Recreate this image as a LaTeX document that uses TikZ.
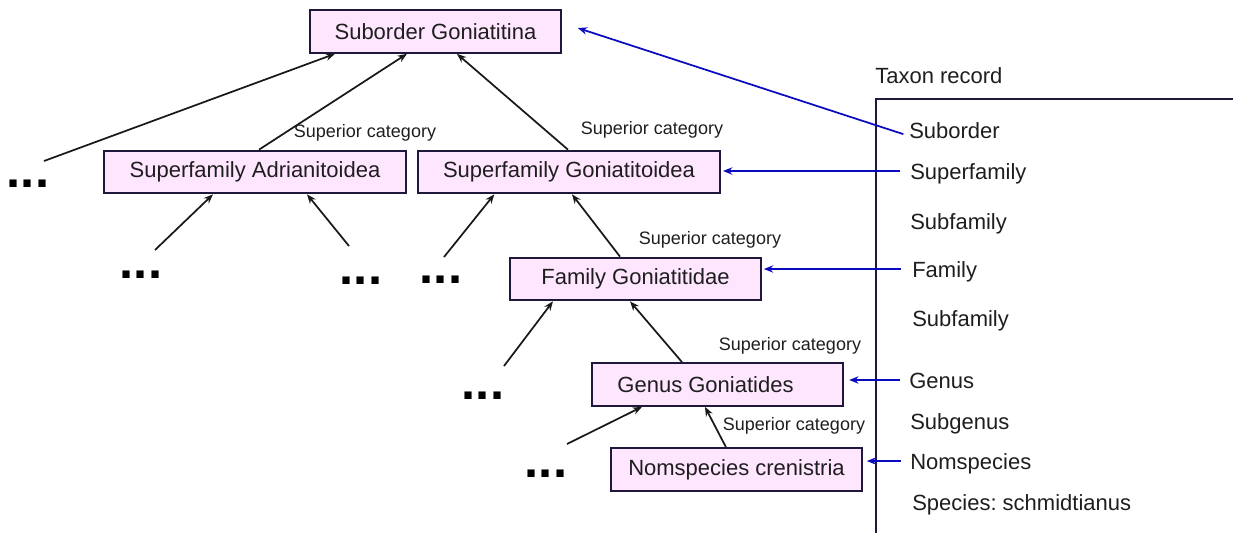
\documentclass[tikz,border=0pt]{standalone}
\usepackage{fontspec}
\setmainfont{Liberation Sans}
\usetikzlibrary{arrows.meta,calc}
\definecolor{boxfill}{RGB}{255,230,255}
\definecolor{boxline}{RGB}{30,25,60}
\definecolor{txt}{RGB}{30,30,30}
\definecolor{lnk}{RGB}{10,10,190}
\frenchspacing
\begin{document}
\begin{tikzpicture}[x=0.75pt,y=-0.75pt,
  taxbox/.style={draw=boxline,line width=1.5pt,fill=boxfill,minimum width=188pt,minimum height=32pt,inner sep=0pt,font=\fontsize{16.5}{20}\selectfont,text=txt},
  cat/.style={font=\fontsize{13.5}{16}\selectfont,text=txt,inner sep=0pt},
  reclabel/.style={font=\fontsize{16.5}{20}\selectfont,text=txt,inner sep=0pt,anchor=west,text height=12pt,text depth=0pt},
  dotrow/.style={font=\fontsize{38}{40}\selectfont\bfseries,inner sep=0pt,anchor=base},
  up/.style={line width=1.3pt,draw=black!90,-{Stealth[length=7pt,width=5.5pt]}},
  link/.style={line width=1.3pt,draw=lnk,-{Stealth[length=7pt,width=5.5pt]}}]
\useasboundingbox (0,0) rectangle (1233,533);

% taxon boxes
\node[taxbox] (sub) at (435.5,31.5) {Suborder Goniatitina};
\node[taxbox, minimum width=226.5pt] (adr) at (255,172) {Superfamily Adrianitoidea};
\node[taxbox, minimum width=226.5pt] (gon) at (569,172) {Superfamily Goniatitoidea};
\node[taxbox] (fam) at (635.5,279) {Family Goniatitidae};
\node[taxbox] (gen) at (717.5,384.5) {Genus Goniatides\hspace*{18pt}};
\node[taxbox] (nom) at (736.5,469.5) {Nomspecies crenistria};

% dots
\node[dotrow] (d1) at (28,187) {...};
\node[dotrow] (d2) at (141,278) {...};
\node[dotrow] (d3) at (361,284) {...};
\node[dotrow] (d4) at (441,283) {...};
\node[dotrow] (d5) at (483,399) {...};
\node[dotrow] (d6) at (546,477) {...};

% free ends near dots
\coordinate (e1) at (44,161);
\coordinate (e2) at (155,250);
\coordinate (e3) at (349,246);
\coordinate (e4) at (444,257);
\coordinate (e5) at (504,366);
\coordinate (e6) at (567,444);

% hierarchy arrows
\draw[up] (e1) -- ([xshift=-75.4pt]sub.south);
\draw[up] ([xshift=3pt]adr.north) -- ([xshift=-21.4pt]sub.south);
\draw[up] ([xshift=-0.75pt]gon.north) -- ([xshift=16.1pt]sub.south);
\draw[up] (e2) -- ([xshift=-31.5pt]adr.south);
\draw[up] (e3) -- ([xshift=39pt]adr.south);
\draw[up] (e4) -- ([xshift=-56pt]gon.south);
\draw[up] ([xshift=-11.6pt]fam.north) -- ([xshift=2.25pt]gon.south);
\draw[up] (e5) -- ([xshift=-61.9pt]fam.south);
\draw[up] ([xshift=-26.6pt]gen.north) -- ([xshift=-4.1pt]fam.south);
\draw[up] (e6) -- ([xshift=-56.6pt]gen.south);
\draw[up] ([xshift=-7.9pt]nom.north) -- ([xshift=-9.4pt]gen.south);

% superior category labels
\node[cat] (c1) at (365,133) {Superior category};
\node[cat] (c2) at (652,130) {Superior category};
\node[cat] (c3) at (710,240) {Superior category};
\node[cat] (c4) at (790,346) {Superior category};
\node[cat] (c5) at (794,426) {Superior category};

% taxon record panel
\node[reclabel] (rec) at (875,75) {Taxon record};
\coordinate (pb) at (876,533);
\coordinate (pc) at (876,99);
\coordinate (pr) at (1233,99);
\draw[draw=boxline,line width=1.5pt] (pb) -- (pc) -- (pr);

\node[reclabel] (l1) at (909,130) {Suborder};
\node[reclabel] (l2) at (910,171) {Superfamily};
\node[reclabel] (l3) at (910,221) {Subfamily};
\node[reclabel] (l4) at (912,269) {Family};
\node[reclabel] (l5) at (912,318) {Subfamily};
\node[reclabel] (l6) at (909,380) {Genus};
\node[reclabel] (l7) at (910,421) {Subgenus};
\node[reclabel] (l8) at (910,461) {Nomspecies};
\node[reclabel] (l9) at (912,502) {Species: schmidtianus};

% links
\draw[link,shorten <=4.5pt] ([yshift=-4.5pt]l1.west) -- ([xshift=12pt,yshift=2.6pt]sub.east);
\draw[link,shorten <=7.5pt,shorten >=1.5pt] (l2.west) -- (l2.west -| gon.east);
\draw[link,shorten <=8pt,shorten >=1.5pt] (l4.west) -- (l4.west -| fam.east);
\draw[link,shorten <=7pt,shorten >=4pt] (l6.west) -- (l6.west -| gen.east);
\draw[link,shorten <=7pt,shorten >=3pt] (l8.west) -- (l8.west -| nom.east);
\end{tikzpicture}
\end{document}
